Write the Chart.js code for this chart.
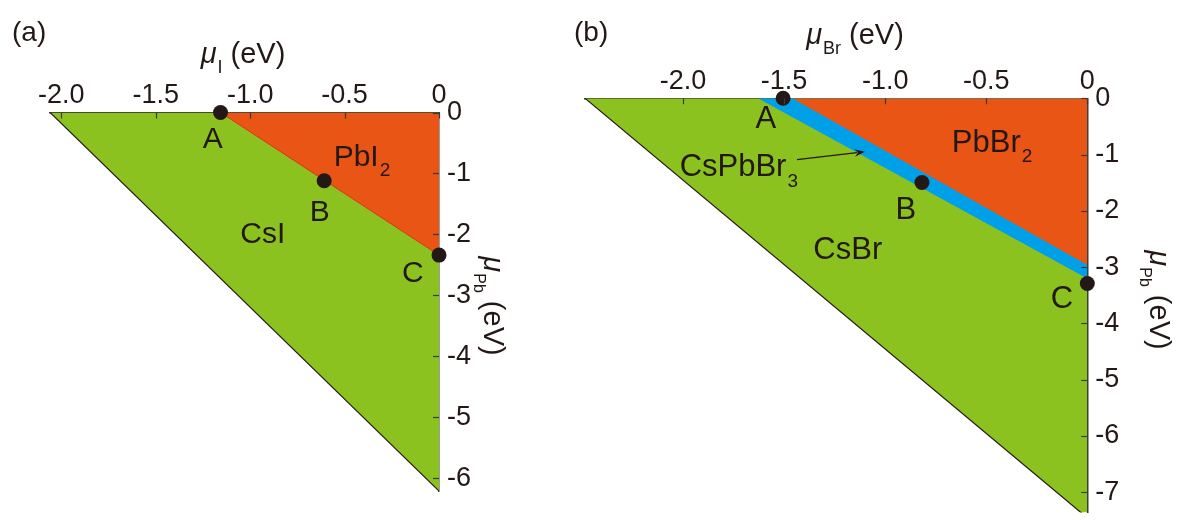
<!DOCTYPE html>
<html>
<head>
<meta charset="utf-8">
<script src="https://cdn.jsdelivr.net/npm/chart.js@4.4.1/dist/chart.umd.min.js"></script>
<style>
  html, body { margin: 0; padding: 0; background: #fff; }
  #wrap { position: relative; width: 1180px; height: 520px; overflow: hidden; }
  canvas { position: absolute; top: 0; }
  #chartA { left: 0; }
  #chartB { left: 560px; }
</style>
</head>
<body>
<div id="wrap">
  <canvas id="chartA" width="560" height="520"></canvas>
  <canvas id="chartB" width="620" height="520"></canvas>
</div>
<script>
// ── (a) μI / μPb phase diagram ─────────────────────────────────
const xTicksA = [-2.0, -1.5, -1.0, -0.5, 0];
const yTicksA = [0, -1, -2, -3, -4, -5, -6];
const xRangeA = [-2.06, 0];
const yRangeA = [-6.21, 0];
const csiEdgeA  = [[-2.06, 0], [0, -6.21]];
const pbi2EdgeA = [[-1.157, 0], [0, -2.34]];
const pointsA   = [[-1.157, 0], [-0.608, -1.12], [0, -2.34]];
const labelTextA = ['A', 'B', 'C', 'PbI_2', 'CsI'];
const labelAtA   = [[-1.198, -0.40], [-0.631, -1.60], [-0.138, -2.60], [-0.408, -0.70], [-0.933, -1.96]];

// ── (b) μBr / μPb phase diagram ────────────────────────────────
const xTicksB = [-2.0, -1.5, -1.0, -0.5, 0];
const yTicksB = [0, -1, -2, -3, -4, -5, -6, -7];
const xRangeB = [-2.485, 0];
const yRangeB = [-7.36, 0];
const csbrEdgeB  = [[-2.485, 0], [0, -7.455]];
const bandLowB   = [[-1.63, 0], [0, -3.2]];
const pbbr2EdgeB = [[-1.46, 0], [0, -2.96]];
const pointsB    = [[-1.505, 0], [-0.818, -1.496], [0, -3.29]];
const labelTextB = ['A', 'B', 'C', 'PbBr_2', 'CsPbBr_3', 'CsBr'];
const labelAtB   = [[-1.59, -0.335], [-0.898, -1.95], [-0.125, -3.52], [-0.471, -0.754], [-1.724, -1.19], [-1.185, -2.66]];
const arrowB     = [[-1.436, -1.089], [-1.100, -0.949]];

// ── Styling ──
const INK = '#231815';
const AXIS = '#3a3a3a';
const GREEN = '#8cc21f';
const ORANGE = '#e85514';
const BLUE = '#00a0e9';
const FAMILY = '"Liberation Sans", Arial, Helvetica, sans-serif';

const toXY = pts => pts.map(([x, y]) => ({ x, y }));

function parseLabel(s) {
  const [main, sub] = s.split('_');
  const parts = [{ t: main }];
  if (sub) parts.push({ t: sub, sub: true });
  return parts;
}

function partFont(p, size) {
  const s = p.sub ? Math.round(size * (p.small ? 0.56 : 0.62)) : size;
  return (p.it ? 'italic ' : '') + s + 'px ' + FAMILY;
}

// draws text with optional italic / subscript parts, baseline at y
function drawRich(ctx, parts, x, y, size, align) {
  ctx.save();
  ctx.fillStyle = INK;
  ctx.textBaseline = 'alphabetic';
  ctx.textAlign = 'left';
  let total = 0;
  const widths = parts.map(p => {
    ctx.font = partFont(p, size);
    const w = ctx.measureText(p.t).width + (p.sub ? 1 : 0);
    total += w;
    return w;
  });
  let cx = align === 'center' ? x - total / 2 : x;
  parts.forEach((p, i) => {
    ctx.font = partFont(p, size);
    ctx.fillText(p.t, cx + (p.sub ? 1 : 0), y + (p.sub ? size * 0.34 : 0));
    cx += widths[i];
  });
  ctx.restore();
}

function regionSet(pts, color, border, bw, order) {
  return {
    data: toXY(pts), backgroundColor: color, borderColor: border, borderWidth: bw,
    fill: 'end', pointRadius: 0, pointHoverRadius: 0, tension: 0, order
  };
}

function pointSet(pts) {
  return {
    data: toXY(pts), showLine: false, pointRadius: 7.5, pointHoverRadius: 7.5,
    pointBackgroundColor: INK, pointBorderWidth: 0, clip: false, order: 0
  };
}

function decorPlugin(p) {
  return {
    id: 'decor',
    afterDatasetsDraw(chart) {
      const { ctx, chartArea: area, scales: { x, y } } = chart;

      // ── inward tick marks ──
      ctx.save();
      ctx.strokeStyle = AXIS;
      ctx.lineWidth = 1.2;
      x.ticks.forEach(t => {
        const px = Math.round(x.getPixelForValue(t.value)) + 0.5;
        ctx.beginPath(); ctx.moveTo(px, area.top); ctx.lineTo(px, area.top + 6); ctx.stroke();
      });
      y.ticks.forEach(t => {
        const py = Math.round(y.getPixelForValue(t.value)) + 0.5;
        ctx.beginPath(); ctx.moveTo(area.right, py); ctx.lineTo(area.right - 6, py); ctx.stroke();
      });
      ctx.restore();

      // ── region / point labels ──
      p.labels.forEach((txt, i) => {
        const [vx, vy] = p.labelAt[i];
        drawRich(ctx, parseLabel(txt), x.getPixelForValue(vx),
          y.getPixelForValue(vy) + 0.36 * p.labelSize, p.labelSize, 'center');
      });

      // ── arrow ──
      if (p.arrow) {
        const [a, b] = p.arrow;
        const x1 = x.getPixelForValue(a[0]), y1 = y.getPixelForValue(a[1]);
        const x2 = x.getPixelForValue(b[0]), y2 = y.getPixelForValue(b[1]);
        const ang = Math.atan2(y2 - y1, x2 - x1);
        ctx.save();
        ctx.strokeStyle = INK; ctx.fillStyle = INK; ctx.lineWidth = 1.3;
        ctx.beginPath(); ctx.moveTo(x1, y1);
        ctx.lineTo(x2 - 8 * Math.cos(ang), y2 - 8 * Math.sin(ang)); ctx.stroke();
        ctx.beginPath();
        ctx.moveTo(x2, y2);
        ctx.lineTo(x2 - 11 * Math.cos(ang - 0.35), y2 - 11 * Math.sin(ang - 0.35));
        ctx.lineTo(x2 - 7 * Math.cos(ang), y2 - 7 * Math.sin(ang));
        ctx.lineTo(x2 - 11 * Math.cos(ang + 0.35), y2 - 11 * Math.sin(ang + 0.35));
        ctx.closePath(); ctx.fill();
        ctx.restore();
      }
    },
    afterDraw(chart) {
      const { ctx } = chart;
      // panel tag
      drawRich(ctx, [{ t: p.tag }], p.tagPos[0], p.tagPos[1], 28, 'left');
      // top axis title
      drawRich(ctx, p.xTitle, p.xTitlePos[0], p.xTitlePos[1], 29, 'center');
      // right axis title, rotated
      ctx.save();
      ctx.translate(p.yTitlePos[0], p.yTitlePos[1]);
      ctx.rotate(Math.PI / 2);
      drawRich(ctx, p.yTitle, 0, 0, 29, 'center');
      ctx.restore();
    }
  };
}

function makePanel(id, p) {
  const tickFont = { family: FAMILY, size: 27 };
  return new Chart(document.getElementById(id), {
    type: 'line',
    data: { datasets: p.datasets },
    options: {
      responsive: false,
      animation: false,
      devicePixelRatio: 1,
      layout: { padding: { left: p.padLeft, right: 0, top: 0, bottom: p.padBottom } },
      plugins: { legend: { display: false }, tooltip: { enabled: false } },
      scales: {
        x: {
          type: 'linear', position: 'top', min: p.xRange[0], max: p.xRange[1],
          grid: { display: false, drawTicks: false, tickLength: 0 },
          border: { display: true, color: AXIS, width: 1.5 },
          ticks: {
            font: tickFont, color: INK, padding: 1, maxRotation: 0, autoSkip: false,
            callback: v => (v === 0 ? '0' : v.toFixed(1))
          },
          afterBuildTicks: s => { s.ticks = p.xTicks.map(v => ({ value: v })); },
          afterFit: s => { s.height = p.topH; s.paddingLeft = 0; s.paddingRight = 0; }
        },
        y: {
          type: 'linear', position: 'right', min: p.yRange[0], max: p.yRange[1],
          grid: { display: false, drawTicks: false, tickLength: 0 },
          border: { display: true, color: AXIS, width: 1.5 },
          ticks: { font: tickFont, color: INK, padding: 8, autoSkip: false, callback: v => String(v) },
          afterBuildTicks: s => { s.ticks = p.yTicks.map(v => ({ value: v })); },
          afterFit: s => { s.width = p.rightW; s.paddingTop = 0; s.paddingBottom = 0; }
        }
      }
    },
    plugins: [decorPlugin(p)]
  });
}

const yTitle = [{ t: 'μ', it: true }, { t: 'Pb', sub: true, small: true }, { t: ' (eV)' }];

// ── Panel (a) ──
makePanel('chartA', {
  xRange: xRangeA, yRange: yRangeA, xTicks: xTicksA, yTicks: yTicksA,
  padLeft: 50, padBottom: 29, topH: 112.5, rightW: 121,
  datasets: [
    pointSet(pointsA),
    regionSet(pbi2EdgeA, ORANGE, '#e3301c', 1, 1),
    regionSet(csiEdgeA, GREEN, INK, 1.2, 3)
  ],
  labels: labelTextA, labelAt: labelAtA, labelSize: 30,
  tag: '(a)', tagPos: [12, 41],
  xTitle: [{ t: 'μ', it: true }, { t: 'I', sub: true }, { t: ' (eV)' }], xTitlePos: [243, 63],
  yTitle, yTitlePos: [484, 306]
});

// ── Panel (b) ──
makePanel('chartB', {
  xRange: xRangeB, yRange: yRangeB, xTicks: xTicksB, yTicks: yTicksB,
  padLeft: 25, padBottom: 0, topH: 98.3, rightW: 92.7,
  datasets: [
    pointSet(pointsB),
    regionSet(pbbr2EdgeB, ORANGE, 'transparent', 1, 1),
    regionSet(bandLowB, BLUE, 'transparent', 1, 2),
    regionSet(csbrEdgeB, GREEN, INK, 1.2, 3)
  ],
  labels: labelTextB, labelAt: labelAtB, labelSize: 31, arrow: arrowB,
  tag: '(b)', tagPos: [14, 41],
  xTitle: [{ t: 'μ', it: true }, { t: 'Br', sub: true }, { t: ' (eV)' }], xTitlePos: [295, 44],
  yTitle, yTitlePos: [590, 300]
});
</script>
</body>
</html>
